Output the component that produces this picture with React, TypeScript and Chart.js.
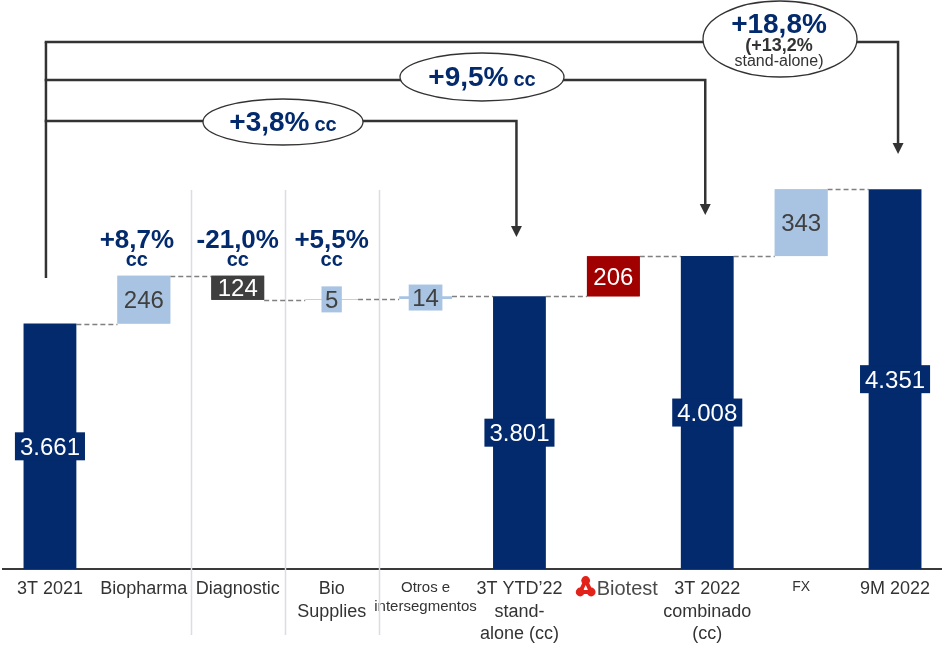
import React, { useEffect, useRef } from "react";
import { Chart, registerables } from "chart.js";

Chart.register(...registerables);

// ---------- DATA ----------
const categories: (string | string[])[] = [
  "3T 2021",
  "Biopharma",
  "Diagnostic",
  ["Bio", "Supplies"],
  ["Otros e", "intersegmentos"],
  ["3T YTD’22", "stand-", "alone (cc)"],
  "     Biotest",
  ["3T 2022", "combinado", "(cc)"],
  "FX",
  "9M 2022",
];
const kinds = ["total", "delta", "delta", "delta", "delta", "total", "delta", "total", "delta", "total"];
const values = [3661, 246, -124, 5, 14, 3801, 206, 4008, 343, 4351];
const valueLabels = ["3.661", "246", "124", "5", "14", "3.801", "206", "4.008", "343", "4.351"];
const growthTop = ["", "+8,7%", "-21,0%", "+5,5%", "", "", "", "", "", ""];
const growthSub = ["", "cc", "cc", "cc", "", "", "", "", "", ""];
const bracketMain = ["+3,8%", "+9,5%", "+18,8%"];
const bracketSuffix = ["cc", "cc", ""];
const bracketNote1 = "(+13,2%";
const bracketNote2 = "stand-alone)";
const bracketTargets = [5, 7, 9];
const dividerAfter = [1, 2, 3];
const AXIS_MIN = 2400;
const AXIS_MAX = 5324;

// ---------- STYLE ----------
const NAVY = "#032A6C";
const LIGHT = "#A9C4E3";
const DARKGRAY = "#3F3F3F";
const RED = "#A00000";
const barColors = [NAVY, LIGHT, DARKGRAY, LIGHT, LIGHT, NAVY, RED, NAVY, LIGHT, NAVY];
const labelColors = ["#FFFFFF", "#404040", "#FFFFFF", "#404040", "#404040", "#FFFFFF", "#FFFFFF", "#FFFFFF", "#404040", "#FFFFFF"];
const FONT = "'Liberation Sans', Arial, sans-serif";

function buildRanges() {
  let run = 0;
  const ranges: [number, number][] = [];
  const ends: number[] = [];
  values.forEach((v, i) => {
    if (kinds[i] === "total") {
      run = v;
      ranges.push([AXIS_MIN, v]);
    } else {
      const s = run;
      run = run + v;
      ranges.push([Math.min(s, run), Math.max(s, run)]);
    }
    ends.push(run);
  });
  return { ranges, ends };
}

const { ranges, ends } = buildRanges();

const overlayPlugin = {
  id: "overlay",
  beforeDatasetsDraw(chart: any) {
    const { ctx } = chart;
    const x = chart.scales.x;
    const y = chart.scales.y;
    const meta = chart.getDatasetMeta(0);
    ctx.save();
    // category dividers
    ctx.strokeStyle = "#DCDCE8";
    ctx.lineWidth = 1.5;
    dividerAfter.forEach((i) => {
      const px = Math.round((x.getPixelForValue(i) + x.getPixelForValue(i + 1)) / 2) + 0.5;
      ctx.beginPath();
      ctx.moveTo(px, 190);
      ctx.lineTo(px, 635);
      ctx.stroke();
    });
    // connectors
    ctx.strokeStyle = "#808080";
    ctx.lineWidth = 1.5;
    ctx.setLineDash([5, 3]);
    for (let i = 0; i < values.length - 1; i++) {
      const a = meta.data[i];
      const b = meta.data[i + 1];
      const py = Math.round(y.getPixelForValue(ends[i])) + 0.5;
      ctx.beginPath();
      ctx.moveTo(a.x + a.width / 2, py);
      ctx.lineTo(b.x - b.width / 2, py);
      ctx.stroke();
    }
    ctx.restore();
  },
  afterDatasetsDraw(chart: any) {
    const { ctx } = chart;
    const x = chart.scales.x;
    const meta = chart.getDatasetMeta(0);
    ctx.save();

    // value labels
    ctx.textAlign = "center";
    ctx.textBaseline = "alphabetic";
    ctx.font = `24px ${FONT}`;
    meta.data.forEach((bar: any, i: number) => {
      const top = Math.min(bar.y, bar.base);
      const bot = Math.max(bar.y, bar.base);
      const cy = (top + bot) / 2;
      const tw = ctx.measureText(valueLabels[i]).width;
      let bw: number, bh: number;
      if (kinds[i] === "total") {
        bw = tw + 10;
        bh = 28;
      } else if (bot - top >= 22) {
        bw = bar.width;
        bh = bot - top;
      } else {
        bw = tw + 7;
        bh = 26;
      }
      ctx.fillStyle = barColors[i];
      ctx.fillRect(bar.x - bw / 2, cy - bh / 2, bw, bh);
      ctx.fillStyle = labelColors[i];
      ctx.fillText(valueLabels[i], bar.x, cy + 8.5);
    });

    // growth labels above segments
    ctx.fillStyle = NAVY;
    growthTop.forEach((t, i) => {
      if (!t) return;
      const cx = x.getPixelForValue(i) - (i === 1 ? 7 : 0);
      ctx.font = `bold 26px ${FONT}`;
      ctx.fillText(t, cx, 248);
      ctx.font = `bold 20px ${FONT}`;
      ctx.fillText(growthSub[i], cx, 266);
    });

    // brackets
    const leftX = x.getPixelForValue(0) - 4;
    const levels = [121, 80, 42];
    const tips = [237, 215, 154];
    const tx = bracketTargets.map((t, k) => x.getPixelForValue(t) + [-3, -2, 3][k]);
    ctx.strokeStyle = "#333333";
    ctx.lineWidth = 2.5;
    ctx.beginPath();
    ctx.moveTo(leftX, 42);
    ctx.lineTo(leftX, 278);
    ctx.stroke();
    levels.forEach((ly, k) => {
      ctx.beginPath();
      ctx.moveTo(leftX - 1.25, ly);
      ctx.lineTo(tx[k], ly);
      ctx.lineTo(tx[k], tips[k] - 9);
      ctx.stroke();
      ctx.fillStyle = "#333333";
      ctx.beginPath();
      ctx.moveTo(tx[k], tips[k]);
      ctx.lineTo(tx[k] - 5.5, tips[k] - 11);
      ctx.lineTo(tx[k] + 5.5, tips[k] - 11);
      ctx.closePath();
      ctx.fill();
    });

    // ellipses
    const ells = [
      { cx: 283, cy: 122, rx: 80, ry: 23 },
      { cx: 482, cy: 77, rx: 82, ry: 24 },
      { cx: 780, cy: 39, rx: 77, ry: 38 },
    ];
    ells.forEach((e, k) => {
      ctx.beginPath();
      ctx.ellipse(e.cx, e.cy, e.rx, e.ry, 0, 0, Math.PI * 2);
      ctx.fillStyle = "#FFFFFF";
      ctx.fill();
      ctx.strokeStyle = "#333333";
      ctx.lineWidth = 1.3;
      ctx.stroke();
      if (bracketSuffix[k]) {
        ctx.font = `bold 28px ${FONT}`;
        const w1 = ctx.measureText(bracketMain[k]).width;
        ctx.font = `bold 20px ${FONT}`;
        const w2 = ctx.measureText(bracketSuffix[k]).width;
        const gap = 5;
        const start = e.cx - (w1 + gap + w2) / 2;
        const base = e.cy + 9;
        ctx.textAlign = "left";
        ctx.fillStyle = NAVY;
        ctx.font = `bold 28px ${FONT}`;
        ctx.fillText(bracketMain[k], start, base);
        ctx.font = `bold 20px ${FONT}`;
        ctx.fillText(bracketSuffix[k], start + w1 + gap, base);
      } else {
        ctx.textAlign = "center";
        ctx.fillStyle = NAVY;
        ctx.font = `bold 28px ${FONT}`;
        ctx.fillText(bracketMain[k], e.cx - 1, 33);
        ctx.fillStyle = "#333333";
        ctx.font = `bold 18px ${FONT}`;
        ctx.fillText(bracketNote1, e.cx - 1, 51);
        ctx.font = `16px ${FONT}`;
        ctx.fillText(bracketNote2, e.cx - 1, 66);
      }
    });
    ctx.restore();
  },
  afterDraw(chart: any) {
    // Biotest logo mark next to its tick label
    const { ctx } = chart;
    const x = chart.scales.x;
    const idx = 6;
    const label = categories[idx] as string;
    ctx.save();
    ctx.font = `20px ${FONT}`;
    const full = ctx.measureText(label).width;
    const word = ctx.measureText(label.trim()).width;
    const cx = x.getPixelForValue(idx);
    const textLeft = cx - full / 2 + (full - word);
    const ix = textLeft - 11;
    const pts = [
      [ix, 580.5],
      [ix - 5.5, 592],
      [ix + 5.5, 592],
    ];
    ctx.strokeStyle = "#E2231A";
    ctx.fillStyle = "#E2231A";
    ctx.lineWidth = 4;
    ctx.beginPath();
    ctx.moveTo(pts[0][0], pts[0][1]);
    ctx.lineTo(pts[1][0], pts[1][1]);
    ctx.lineTo(pts[2][0], pts[2][1]);
    ctx.closePath();
    ctx.stroke();
    pts.forEach((p) => {
      ctx.beginPath();
      ctx.arc(p[0], p[1], 4.4, 0, Math.PI * 2);
      ctx.fill();
    });
    ctx.restore();
  },
};

function tickFont(ctx: any) {
  const i = ctx.index;
  if (i === 4) return { family: FONT, size: 15, lineHeight: 1.27 };
  if (i === 8) return { family: FONT, size: 14, lineHeight: 1.3 };
  if (i === 6) return { family: FONT, size: 20, lineHeight: 1.1 };
  return { family: FONT, size: 18, lineHeight: 1.25 };
}

export default function App() {
  const ref = useRef<HTMLCanvasElement | null>(null);
  useEffect(() => {
    if (!ref.current) return;
    const chart = new Chart(ref.current, {
      type: "bar",
      data: {
        labels: categories as any,
        datasets: [
          {
            data: ranges as any,
            backgroundColor: barColors,
            borderWidth: 0,
            barPercentage: 0.9,
            categoryPercentage: 0.625,
          },
        ],
      },
      options: {
        animation: false,
        responsive: true,
        maintainAspectRatio: false,
        layout: { padding: { left: 3, right: 0, top: 0, bottom: 0 } },
        plugins: {
          legend: { display: false },
          tooltip: { enabled: false },
          title: { display: false },
        },
        scales: {
          x: {
            grid: { display: false, drawTicks: false },
            border: { display: true, color: "#3A3A3A", width: 2 },
            ticks: {
              padding: 9,
              maxRotation: 0,
              minRotation: 0,
              autoSkip: false,
              color: (c: any) => (c.index === 6 ? "#4A4A4A" : "#333333"),
              font: tickFont as any,
            },
            afterFit: (scale: any) => {
              scale.height = 80;
            },
          },
          y: {
            display: false,
            min: AXIS_MIN,
            max: AXIS_MAX,
          },
        },
      },
      plugins: [overlayPlugin],
    });
    return () => chart.destroy();
  }, []);
  return (
    <div style={{ position: "absolute", left: 0, top: 0, width: 942, height: 649, background: "#FFFFFF" }}>
      <canvas ref={ref} />
    </div>
  );
}
